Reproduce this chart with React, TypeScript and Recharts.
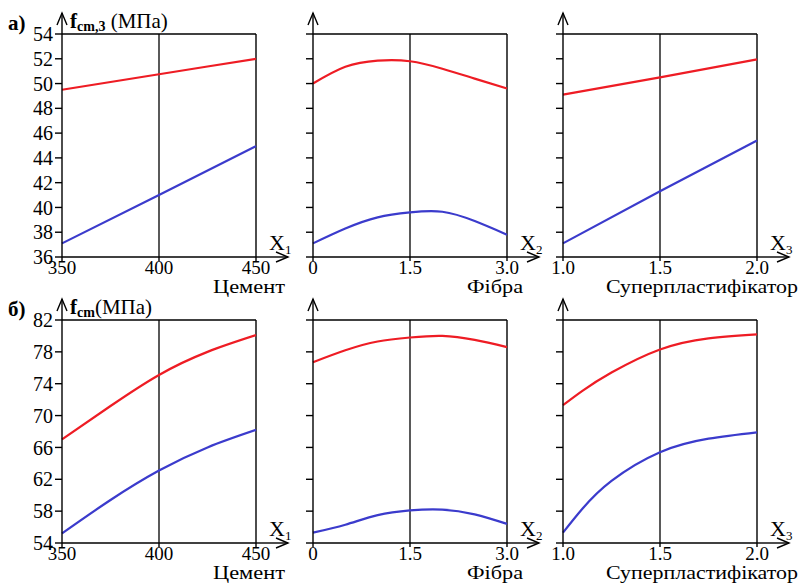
import { LineChart, Line, XAxis, YAxis, ReferenceLine } from "recharts";

// x values for each factor
const cementA = [350, 400, 450];
const cementB = [350, 375, 400, 425, 450];
const fibre = [0, 0.5, 1, 1.5, 2, 2.5, 3];
const superA = [1.0, 1.5, 2.0];
const superB = [1.0, 1.1, 1.25, 1.5, 1.75, 2.0];

// а) f_cm,3
const a1Red = [49.5, 50.75, 52.0];
const a1Blue = [37.1, 41.0, 44.95];
const a2Red = [50.0, 51.35, 51.85, 51.8, 51.2, 50.4, 49.6];
const a2Blue = [37.1, 38.3, 39.2, 39.6, 39.65, 38.9, 37.8];
const a3Red = [49.1, 50.5, 51.95];
const a3Blue = [37.1, 41.3, 45.4];

// б) f_cm
const b1Red = [67.0, 71.2, 75.1, 78.0, 80.1];
const b1Blue = [55.2, 59.4, 63.1, 66.0, 68.2];
const b2Red = [76.7, 78.2, 79.3, 79.8, 80.0, 79.5, 78.6];
const b2Blue = [55.3, 56.3, 57.5, 58.1, 58.2, 57.6, 56.4];
const b3Red = [71.3, 73.1, 75.4, 78.3, 79.7, 80.2];
const b3Blue = [55.3, 58.3, 61.8, 65.4, 67.1, 67.9];

const ticksA = [36, 38, 40, 42, 44, 46, 48, 50, 52, 54];
const ticksB = [54, 58, 62, 66, 70, 74, 78, 82];
const cementTicks = [350, 400, 450];
const fibreTicks = [0, 1.5, 3];
const superTicks = [1.0, 1.5, 2.0];
const fibreLabels = ["0", "1.5", "3.0"];

const factorNames = ["Цемент", "Фібра", "Суперпластифікатор"];
const factorSymbols = ["1", "2", "3"];

const RED = "#ee1c24";
const BLUE = "#3b3bcc";
const FONT = "'Liberation Serif', 'DejaVu Serif', serif";

const PLOT_W = 194;
const PLOT_H = 223;
const ML = 62;
const MT = 34;
const MR = 20;
const XH = 30;
const CHART_W = ML + PLOT_W + MR;
const CHART_H = MT + PLOT_H + XH;
const COL_LEFT = [0, 251, 501];
const ROW_TOP = [0, 286];
const NAME_END = [285, 523, 798];
const NAME_LEN = [72, 56, 192];

const rows = (xs: number[], red: number[], blue: number[]) =>
  xs.map((x, i) => ({ x, red: red[i], blue: blue[i] }));

interface PanelProps {
  col: number;
  row: number;
  data: { x: number; red: number; blue: number }[];
  xDomain: [number, number];
  xTicks: number[];
  xFmt: (v: number) => string;
  yDomain: [number, number];
  yTicks: number[];
}

const xTickStyle = { fill: "#000", fontSize: 19, fontFamily: FONT };
const yTickStyle = { fill: "#000", fontSize: 20, fontFamily: FONT };

function Panel({ col, row, data, xDomain, xTicks, xFmt, yDomain, yTicks }: PanelProps) {
  const mid = (xDomain[0] + xDomain[1]) / 2;
  return (
    <div style={{ position: "absolute", left: COL_LEFT[col], top: ROW_TOP[row] }}>
      <LineChart
        width={CHART_W}
        height={CHART_H}
        data={data}
        margin={{ top: MT, right: MR, left: 0, bottom: 0 }}
      >
        <XAxis
          dataKey="x"
          type="number"
          domain={xDomain}
          ticks={xTicks}
          interval={0}
          tickFormatter={xFmt}
          height={XH}
          stroke="#000"
          strokeWidth={1.4}
          tickSize={4}
          tickMargin={0}
          tick={xTickStyle}
        />
        <YAxis
          type="number"
          domain={yDomain}
          ticks={yTicks}
          interval={0}
          width={ML}
          stroke="#000"
          strokeWidth={1.4}
          tickSize={7}
          tickMargin={2}
          tickFormatter={(v: number) => (col === 0 ? String(v) : "")}
          tick={yTickStyle}
        />
        <ReferenceLine x={mid} stroke="#000" strokeWidth={1.3} />
        <ReferenceLine x={xDomain[1]} stroke="#000" strokeWidth={1.4} />
        <ReferenceLine y={yDomain[1]} stroke="#000" strokeWidth={1.4} />
        <Line
          type="natural"
          dataKey="red"
          stroke={RED}
          strokeWidth={2.2}
          dot={false}
          isAnimationActive={false}
        />
        <Line
          type="natural"
          dataKey="blue"
          stroke={BLUE}
          strokeWidth={2.2}
          dot={false}
          isAnimationActive={false}
        />
      </LineChart>
    </div>
  );
}

function Overlay() {
  const items: JSX.Element[] = [];
  for (let r = 0; r < 2; r++) {
    for (let c = 0; c < 3; c++) {
      const x0 = COL_LEFT[c] + ML;
      const y0 = ROW_TOP[r] + MT;
      const xr = x0 + PLOT_W;
      const yb = y0 + PLOT_H;
      const key = `${r}-${c}`;
      items.push(
        <g key={key} stroke="#000" strokeWidth={1.4} fill="none">
          <line x1={x0} y1={y0} x2={x0} y2={y0 - 21} />
          <polyline points={`${x0 - 5},${y0 - 9} ${x0},${y0 - 21} ${x0 + 5},${y0 - 9}`} />
          <line x1={xr} y1={yb} x2={xr + 32} y2={yb} />
          <polyline points={`${xr + 20},${yb - 5} ${xr + 32},${yb} ${xr + 20},${yb + 5}`} />
        </g>,
        <text key={key + "x"} x={xr + 13} y={yb - 7} fontFamily={FONT} fontSize={22} fill="#000">
          X<tspan fontSize={13} dy={4}>{factorSymbols[c]}</tspan>
        </text>,
        <text
          key={key + "n"}
          x={NAME_END[c] - NAME_LEN[c]}
          y={yb + 36}
          textLength={NAME_LEN[c]}
          lengthAdjust="spacingAndGlyphs"
          fontFamily={FONT}
          fontSize={19}
          fill="#000"
        >
          {factorNames[c]}
        </text>
      );
    }
  }
  return (
    <svg
      width={803}
      height={583}
      style={{ position: "absolute", left: 0, top: 0, pointerEvents: "none" }}
    >
      {items}
      <text x={8} y={30} fontFamily={FONT} fontSize={21} fontWeight="bold" fill="#000">
        а)
      </text>
      <text x={70} y={28} fontFamily={FONT} fontSize={21} fill="#000">
        <tspan fontWeight="bold">f</tspan>
        <tspan fontWeight="bold" fontSize={14} dy={3}>cm,3</tspan>
        <tspan dy={-3}> (МПа)</tspan>
      </text>
      <text x={8} y={316} fontFamily={FONT} fontSize={21} fontWeight="bold" fill="#000">
        б)
      </text>
      <text x={70} y={314} fontFamily={FONT} fontSize={21} fill="#000">
        <tspan fontWeight="bold">f</tspan>
        <tspan fontWeight="bold" fontSize={14} dy={3}>cm</tspan>
        <tspan dy={-3}>(МПа)</tspan>
      </text>
    </svg>
  );
}

export default function App() {
  const plain = (v: number) => String(v);
  const oneDec = (v: number) => v.toFixed(1);
  const fib = (v: number) => fibreLabels[fibreTicks.indexOf(v)] ?? String(v);
  return (
    <div
      style={{
        position: "absolute",
        left: 0,
        top: 0,
        width: 803,
        height: 583,
        background: "#fff",
        overflow: "hidden",
      }}
    >
      <Panel col={0} row={0} data={rows(cementA, a1Red, a1Blue)} xDomain={[350, 450]} xTicks={cementTicks} xFmt={plain} yDomain={[36, 54]} yTicks={ticksA} />
      <Panel col={1} row={0} data={rows(fibre, a2Red, a2Blue)} xDomain={[0, 3]} xTicks={fibreTicks} xFmt={fib} yDomain={[36, 54]} yTicks={ticksA} />
      <Panel col={2} row={0} data={rows(superA, a3Red, a3Blue)} xDomain={[1, 2]} xTicks={superTicks} xFmt={oneDec} yDomain={[36, 54]} yTicks={ticksA} />
      <Panel col={0} row={1} data={rows(cementB, b1Red, b1Blue)} xDomain={[350, 450]} xTicks={cementTicks} xFmt={plain} yDomain={[54, 82]} yTicks={ticksB} />
      <Panel col={1} row={1} data={rows(fibre, b2Red, b2Blue)} xDomain={[0, 3]} xTicks={fibreTicks} xFmt={fib} yDomain={[54, 82]} yTicks={ticksB} />
      <Panel col={2} row={1} data={rows(superB, b3Red, b3Blue)} xDomain={[1, 2]} xTicks={superTicks} xFmt={oneDec} yDomain={[54, 82]} yTicks={ticksB} />
      <Overlay />
    </div>
  );
}
